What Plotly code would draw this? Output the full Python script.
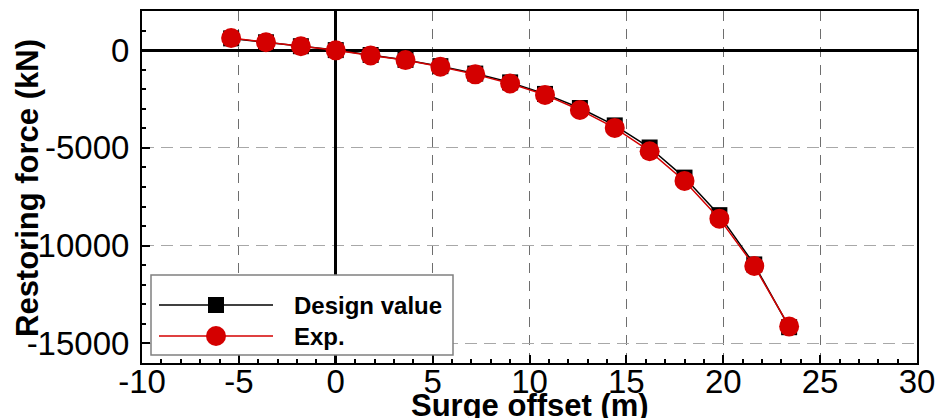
import plotly.graph_objects as go

# ---- data ----
surge = [-5.4, -3.6, -1.8, 0.0, 1.8, 3.6, 5.4, 7.2, 9.0, 10.8, 12.6, 14.4, 16.2, 18.0, 19.8, 21.6, 23.4]
design_force = [600, 400, 200, 0, -250, -500, -820, -1200, -1650, -2240, -2960, -3850, -4980, -6520, -8440, -10960, -14170]
exp_force = [620, 400, 200, -10, -270, -510, -850, -1240, -1710, -2290, -3060, -3980, -5170, -6690, -8620, -11040, -14130]
series_names = ["Design value", "Exp."]
x_ticks = [-10, -5, 0, 5, 10, 15, 20, 25, 30]
y_ticks = [-15000, -10000, -5000, 0]

fig = go.Figure()
fig.add_trace(go.Scatter(x=surge, y=design_force, mode="lines+markers", name=series_names[0],
                         line=dict(color="black", width=1.5),
                         marker=dict(symbol="square", size=16, color="black")))
fig.add_trace(go.Scatter(x=surge, y=exp_force, mode="lines+markers", name=series_names[1],
                         line=dict(color="#d40000", width=1.5),
                         marker=dict(symbol="circle", size=20, color="#d40000")))

tickfont = dict(family="Arial", size=33, color="black")
fig.update_xaxes(range=[-10, 30], tickvals=x_ticks, ticktext=[str(v) for v in x_ticks],
                 ticks="inside", ticklen=8, tickwidth=1.5, tickcolor="black",
                 minor=dict(dtick=1, ticks="inside", ticklen=4, tickcolor="black", showgrid=False),
                 showline=True, linewidth=2, linecolor="black", mirror=True,
                 showgrid=True, gridcolor="#6e6e6e", gridwidth=1, griddash="10px,8px",
                 zeroline=True, zerolinecolor="black", zerolinewidth=3,
                 tickfont=tickfont, ticklabelstandoff=-12, automargin=False)
fig.update_yaxes(range=[-16000, 2000], tickvals=y_ticks, ticktext=[str(v) for v in y_ticks],
                 ticks="inside", ticklen=8, tickwidth=1.5, tickcolor="black",
                 minor=dict(dtick=1000, ticks="inside", ticklen=4, tickcolor="black", showgrid=False),
                 showline=True, linewidth=2, linecolor="black", mirror=True,
                 showgrid=True, gridcolor="#a8a8a8", gridwidth=1, griddash="12px,7px",
                 zeroline=True, zerolinecolor="black", zerolinewidth=3,
                 tickfont=tickfont, ticklabelstandoff=4, automargin=False)

W, H = 941, 418
L, R, T, B = 142, 24, 11, 55
pw, ph = W - L - R, H - T - B

def px(xp):
    return (xp - L) / pw

def py(yp):
    return (H - B - yp) / ph

titlefont = dict(family="Arial", size=31, color="black")
annotations = [
    dict(text="<b>Surge offset (m)</b>", xref="paper", yref="paper", x=0.5, y=py(405),
         xanchor="center", yanchor="middle", showarrow=False, font=titlefont),
    dict(text="<b>Restoring force (kN)</b>", xref="paper", yref="paper", x=px(27), y=py(188),
         xanchor="center", yanchor="middle", textangle=-90, showarrow=False, font=titlefont),
]

# legend (manual)
legfont = dict(family="Arial", size=24, color="black")
shapes = [
    dict(type="rect", xref="paper", yref="paper", x0=px(151), x1=px(453), y0=py(355), y1=py(275),
         fillcolor="white", line=dict(color="#808080", width=1.5), layer="above"),
]
leg_rows = [(305, "black", "rect", 8), (336, "#d40000", "circle", 10)]
for (yy, col, shp, r), name in zip(leg_rows, series_names):
    shapes.append(dict(type="line", xref="paper", yref="paper", x0=px(159), x1=px(273),
                       y0=py(yy), y1=py(yy), line=dict(color=col, width=1.5), layer="above"))
    shapes.append(dict(type=shp, xref="paper", yref="paper", xsizemode="pixel", ysizemode="pixel",
                       xanchor=px(216), yanchor=py(yy), x0=-r, x1=r, y0=-r, y1=r,
                       fillcolor=col, line=dict(color=col, width=0), layer="above"))
    annotations.append(dict(text="<b>%s</b>" % name, xref="paper", yref="paper", x=px(292),
                            y=py(yy), xanchor="left", yanchor="middle", showarrow=False, font=legfont))

fig.update_layout(width=W, height=H, margin=dict(l=L, r=R, t=T, b=B),
                  paper_bgcolor="white", plot_bgcolor="white", showlegend=False,
                  shapes=shapes, annotations=annotations)

fig.write_html("out.html")
